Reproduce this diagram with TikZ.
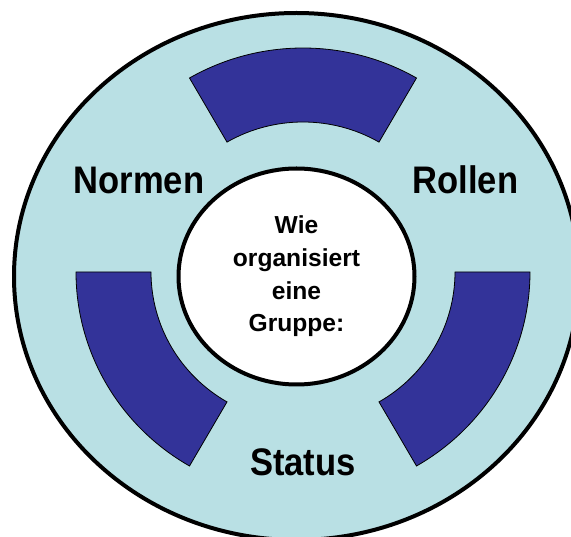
\documentclass[tikz,border=0pt]{standalone}
\usepackage{fontspec}
\setmainfont{Liberation Sans}
\newfontfamily\labelfont{Liberation Sans}[FakeStretch=0.9]
\usetikzlibrary{shapes.geometric}
\definecolor{ringfill}{RGB}{185,224,228}
\definecolor{sectorblue}{RGB}{51,51,153}
\begin{document}
\begin{tikzpicture}[x=1pt,y=1pt,
  sector/.style={fill=sectorblue, draw=black, line width=0.8pt},
  biglabel/.style={font=\labelfont\bfseries\fontsize{38.4}{40}\selectfont, inner sep=0pt, anchor=base},
  hub/.style={ellipse, draw=black, line width=4pt, fill=white, minimum width=236pt, minimum height=216pt, inner sep=0pt, align=center, font=\bfseries\fontsize{24.6}{32.7}\selectfont}]
\useasboundingbox (0,0) rectangle (571,-537);
\clip (0,0) rectangle (571,-537);
\fill[white] (0,0) rectangle (571,-537);
\coordinate (mid) at (296.5,-276.5);
\coordinate (c) at (303,-272);
\draw[line width=4pt, fill=ringfill] (mid) ellipse [x radius=282.5, y radius=263.5];
% three ring sectors
\foreach \a in {60,180,300}{
  \draw[sector] ([shift={(c)}]\a:227 and 224)
     arc[start angle=\a, end angle=\a+60, x radius=227, y radius=224]
     -- ([shift={(c)}]\a+60:152 and 150)
     arc[start angle=\a+60, end angle=\a, x radius=152, y radius=150]
     -- cycle;
}
\node[hub] (q) at (mid) {Wie\\organisiert\\eine\\Gruppe:};
\node[biglabel] (normen) at (139,-193.5) {Normen};
\node[biglabel] (rollen) at (465.5,-193.5) {Rollen};
\node[biglabel] (status) at (303,-476) {Status};
\end{tikzpicture}
\end{document}
